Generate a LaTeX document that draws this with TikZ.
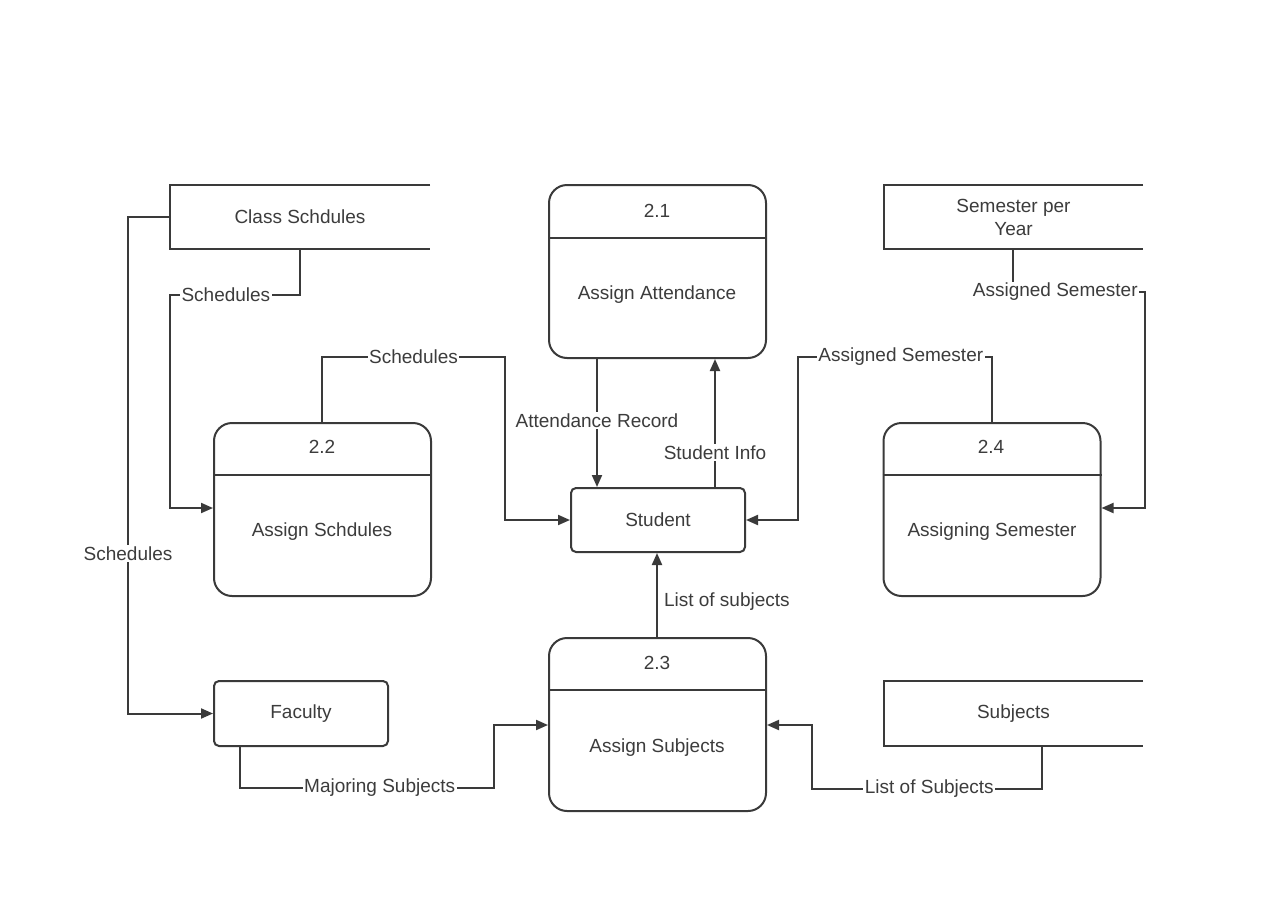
\documentclass[tikz,border=0pt]{standalone}
\usepackage{fontspec}
\setmainfont{Liberation Sans}
\usetikzlibrary{arrows.meta,calc}
\definecolor{ln}{HTML}{3A3A3A}
\definecolor{tx}{HTML}{3C3C3C}
\tikzset{
  x=1pt,y=-1pt,
  every node/.style={font=\fontsize{19}{23}\selectfont, text=tx},
  proc/.style={draw=ln, line width=2pt, rounded corners=18pt, minimum width=217pt, minimum height=173pt, inner sep=0pt},
  ent/.style={draw=ln, line width=2pt, rounded corners=5pt, inner sep=0pt},
  store/.style={inner sep=0pt, align=center},
  txt/.style={inner sep=0pt, align=center},
  flow/.style={draw=ln, line width=2pt, -{Triangle[length=12pt,width=10pt]}},
  lbl/.style={fill=white, inner sep=1.5pt}
}
\begin{document}
\begin{tikzpicture}
\useasboundingbox (0,0) rectangle (1280,913);
\fill[white] (0,0) rectangle (1280,913);

% data stores
\node[store, minimum width=260pt, minimum height=64pt] (cs) at (300,217) {Class Schdules};
\draw[ln, line width=2pt] (cs.north east) -- (cs.north west) -- (cs.south west) -- (cs.south east);
\node[store, minimum width=259pt, minimum height=64pt] (spy) at (1013.5,217) {Semester per\\Year};
\draw[ln, line width=2pt] (spy.north east) -- (spy.north west) -- (spy.south west) -- (spy.south east);
\node[store, minimum width=259pt, minimum height=65pt] (sub) at (1013.5,713.5) {Subjects};
\draw[ln, line width=2pt] (sub.north east) -- (sub.north west) -- (sub.south west) -- (sub.south east);

% processes
\node[proc] (p1) at (657.5,271.5) {};
\draw[ln, line width=2pt] (p1.west |- 0,238) -- (p1.east |- 0,238);
\node[txt] (p1n) at (657,211) {2.1};
\node[txt] (p1t) at (657,295) {Assign Attendance};

\node[proc] (p2) at (322.5,509.5) {};
\draw[ln, line width=2pt] (p2.west |- 0,475) -- (p2.east |- 0,475);
\node[txt] (p2n) at (322,447) {2.2};
\node[txt] (p2t) at (322,532) {Assign Schdules};

\node[proc] (p4) at (992,509.5) {};
\draw[ln, line width=2pt] (p4.west |- 0,475) -- (p4.east |- 0,475);
\node[txt] (p4n) at (991,447) {2.4};
\node[txt] (p4t) at (992,532) {Assigning Semester};

\node[proc] (p3) at (657.5,724.5) {};
\draw[ln, line width=2pt] (p3.west |- 0,690) -- (p3.east |- 0,690);
\node[txt] (p3n) at (657,663) {2.3};
\node[txt] (p3t) at (657,748) {Assign Subjects};

% entities
\node[ent, minimum width=174pt, minimum height=64pt] (stu) at (658,520) {Student};
\node[ent, minimum width=174pt, minimum height=65pt] (fac) at (301,713.5) {Faculty};

% flows
\draw[flow] (cs.west) -- (128,217) |- (fac.west) node[lbl, pos=0.339] {Schedules};
\draw[flow] (cs.south -| 300,0) -- (300,295) -- (170,295) node[lbl, pos=0.57] {Schedules} |- (p2.west |- 0,508);
\draw[flow] (p2.north -| 322,0) -- (322,357) -- (505,357) node[lbl, pos=0.5] {Schedules} |- (stu.west);
\draw[flow] (p1.south -| 597,0) -- (stu.north -| 597,0) node[lbl, pos=0.48] {Attendance Record};
\draw[flow] (stu.north -| 715,0) -- (p1.south -| 715,0) node[lbl, pos=0.27] {Student Info};
\draw[flow] (p4.north -| 992,0) -- (992,357) -- (798,357) node[lbl, pos=0.47] {Assigned Semester} |- (stu.east);
\draw[flow] (spy.south -| 1013,0) -- (1013,292) -- (1145,292) node[lbl, pos=0.32] {Assigned Semester} |- (p4.east |- 0,508);
\draw[flow] (p3.north -| 657,0) -- (stu.south -| 657,0) node[pos=0.42, right=6pt, inner sep=0pt] {List of subjects};
\draw[flow] (fac.south -| 240,0) -- (240,788) -- (494,788) node[lbl, pos=0.55] {Majoring Subjects} |- (p3.west |- 0,725);
\draw[flow] (sub.south -| 1042,0) -- (1042,789) -- (812,789) node[lbl, pos=0.49] {List of Subjects} |- (p3.east |- 0,725);
\end{tikzpicture}
\end{document}
